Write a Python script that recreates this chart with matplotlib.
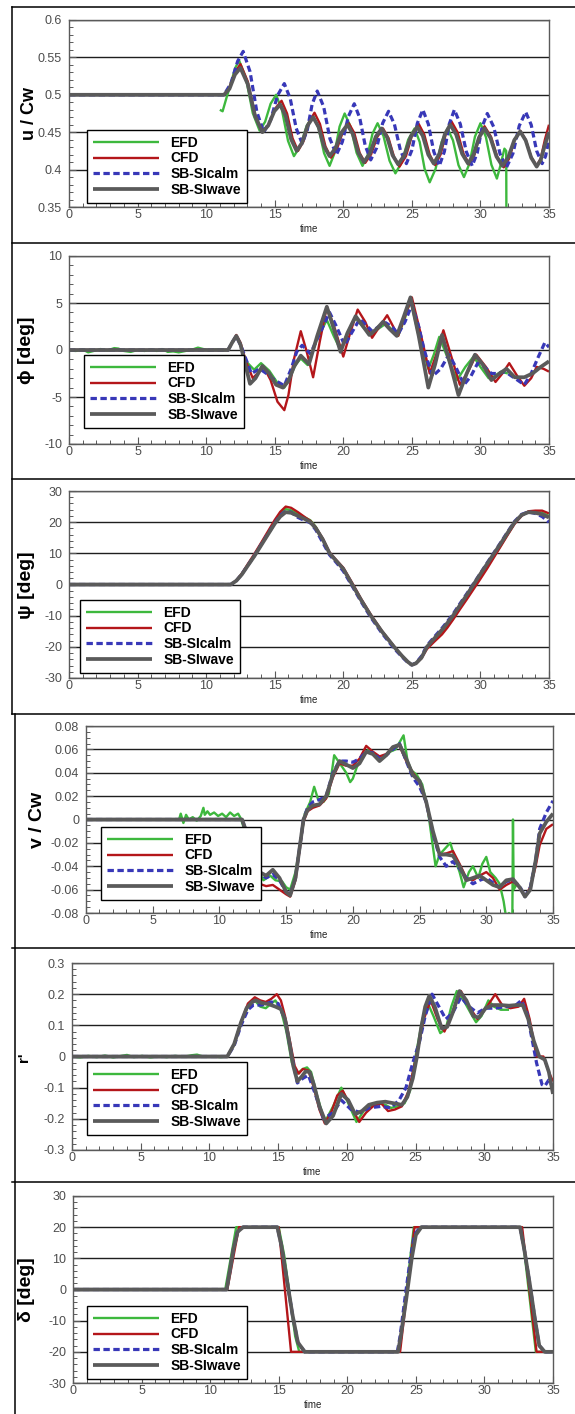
import matplotlib
matplotlib.use('Agg')
import matplotlib.pyplot as plt
from matplotlib.lines import Line2D
from matplotlib.ticker import FixedLocator, MultipleLocator, FixedFormatter
from matplotlib import font_manager as fm

plt.rcParams['axes.unicode_minus'] = False

# ---------------- data ----------------
series_names = ['EFD', 'CFD', 'SB-SIcalm', 'SB-SIwave']

# Panel 1: u / Cw
u_t_efd = [11.0, 11.2, 11.5, 11.8, 12.1, 12.4, 12.9, 13.4, 13.9, 14.3, 14.7, 15.1, 15.53, 15.97, 16.4, 16.87, 17.33, 17.8,
           18.2, 18.6, 19.0, 19.37, 19.73, 20.1, 20.53, 20.97, 21.4, 21.77, 22.13, 22.5, 22.93, 23.37, 23.8, 24.27, 24.73,
           25.2, 25.57, 25.93, 26.3, 26.73, 27.17, 27.6, 28.0, 28.4, 28.8, 29.2, 29.6, 30.0, 30.4, 30.8, 31.2, 31.45,
           31.75, 31.88, 31.9]
u_efd = [0.480, 0.478, 0.497, 0.515, 0.535, 0.546, 0.5225, 0.4755, 0.452, 0.464, 0.488, 0.500, 0.4795, 0.4385, 0.418,
         0.4315, 0.4585, 0.472, 0.455, 0.422, 0.405, 0.4225, 0.4575, 0.475, 0.4575, 0.4225, 0.405, 0.419, 0.448, 0.462,
         0.445, 0.412, 0.395, 0.410, 0.440, 0.455, 0.437, 0.401, 0.383, 0.401, 0.437, 0.455, 0.439, 0.406, 0.390, 0.408,
         0.444, 0.462, 0.4435, 0.4065, 0.388, 0.405, 0.428, 0.425, 0.30]
u_t_cfd = [0, 11.3, 11.7, 12.1, 12.5, 13.03, 13.57, 14.1, 14.57, 15.03, 15.5, 15.9, 16.3, 16.7, 17.1, 17.5, 17.9, 18.3,
           18.7, 19.1, 19.53, 19.97, 20.4, 20.8, 21.2, 21.6, 22.03, 22.47, 22.9, 23.3, 23.7, 24.1, 24.57, 25.03, 25.5,
           25.9, 26.3, 26.7, 27.1, 27.5, 27.9, 28.33, 28.77, 29.2, 29.57, 29.93, 30.3, 30.77, 31.23, 31.7, 32.1, 32.5,
           32.9, 33.3, 33.7, 34.1, 34.4, 34.7, 35]
u_cfd = [0.5, 0.5, 0.51, 0.53, 0.541, 0.518, 0.473, 0.450, 0.4605, 0.4815, 0.492, 0.475, 0.442, 0.425, 0.438, 0.463,
         0.476, 0.461, 0.431, 0.416, 0.4275, 0.4505, 0.462, 0.449, 0.422, 0.409, 0.4205, 0.4435, 0.455, 0.442, 0.417,
         0.404, 0.418, 0.447, 0.461, 0.447, 0.420, 0.406, 0.4205, 0.4495, 0.464, 0.450, 0.421, 0.407, 0.420, 0.445,
         0.458, 0.444, 0.417, 0.403, 0.415, 0.440, 0.452, 0.440, 0.417, 0.405, 0.415, 0.44, 0.46]
u_t_calm = [0, 11.3, 11.8, 12.3, 12.7, 13.2, 13.7, 14.2, 14.7, 15.2, 15.7, 16.13, 16.57, 17.0, 17.37, 17.73, 18.1,
            18.57, 19.03, 19.5, 19.93, 20.37, 20.8, 21.2, 21.6, 22.0, 22.43, 22.87, 23.3, 23.73, 24.17, 24.6, 25.0,
            25.4, 25.8, 26.2, 26.6, 27.0, 27.37, 27.73, 28.1, 28.53, 28.97, 29.4, 29.77, 30.13, 30.5, 30.97, 31.43,
            31.9, 32.37, 32.83, 33.3, 33.7, 34.1, 34.5, 34.75, 35]
u_calm = [0.5, 0.5, 0.515, 0.545, 0.558, 0.531, 0.477, 0.450, 0.466, 0.499, 0.515, 0.495, 0.455, 0.435, 0.4525,
          0.4875, 0.505, 0.484, 0.441, 0.420, 0.437, 0.471, 0.488, 0.469, 0.432, 0.413, 0.429, 0.462, 0.478, 0.4605,
          0.4255, 0.408, 0.426, 0.462, 0.480, 0.461, 0.424, 0.405, 0.424, 0.461, 0.480, 0.461, 0.424, 0.405, 0.4225,
          0.4575, 0.475, 0.457, 0.421, 0.403, 0.4215, 0.4585, 0.477, 0.460, 0.425, 0.408, 0.418, 0.440]
u_t_wave = [0, 11.3, 11.7, 12.1, 12.5, 13.03, 13.57, 14.1, 14.53, 14.97, 15.4, 15.8, 16.2, 16.6, 17.0, 17.4, 17.8, 18.2,
            18.6, 19.0, 19.43, 19.87, 20.3, 20.7, 21.1, 21.5, 21.93, 22.37, 22.8, 23.2, 23.6, 24.0, 24.47, 24.93, 25.4,
            25.8, 26.2, 26.6, 27.0, 27.4, 27.8, 28.23, 28.67, 29.1, 29.5, 29.9, 30.3, 30.73, 31.17, 31.6, 32.03, 32.47,
            32.9, 33.3, 33.7, 34.1, 34.4, 34.7, 35]
u_wave = [0.5, 0.5, 0.508, 0.527, 0.536, 0.5145, 0.4715, 0.450, 0.459, 0.478, 0.487, 0.4715, 0.4405, 0.425, 0.436,
          0.459, 0.470, 0.457, 0.431, 0.418, 0.4285, 0.4495, 0.460, 0.4475, 0.4225, 0.410, 0.421, 0.444, 0.455, 0.443,
          0.419, 0.407, 0.4195, 0.4445, 0.457, 0.445, 0.420, 0.408, 0.421, 0.447, 0.460, 0.447, 0.421, 0.408, 0.420,
          0.443, 0.455, 0.4425, 0.4175, 0.405, 0.4165, 0.4395, 0.451, 0.439, 0.416, 0.404, 0.413, 0.433, 0.450]

# Panel 2: phi [deg]
phi_t_efd = [0, 0.5, 1.0, 1.4, 1.8, 2.3, 2.8, 3.3, 3.6, 4.0, 4.5, 5.0, 5.5, 6.0, 6.4, 6.8, 7.2, 7.6, 8.0, 8.5, 9.0,
             9.4, 9.8, 10.2, 10.7, 11.2, 11.6, 11.9, 12.2, 12.5, 12.9, 13.5, 14.0, 14.6, 15.2, 15.7, 16.1, 16.5, 16.9,
             17.4, 18.1, 18.8, 19.3, 19.8, 20.3, 20.9, 21.4, 22.0, 22.5, 23.1, 23.6, 24.0, 24.5, 24.9, 25.5, 26.2,
             26.6, 27.0, 27.6, 28.3, 28.9, 29.5, 30.0, 30.6, 31.0, 31.5, 32.0]
phi_efd = [-0.05, -0.1, 0.05, -0.25, -0.1, 0.1, -0.05, 0.2, 0.15, -0.1, -0.2, 0.0, -0.1, 0.05, -0.1, 0.1, -0.2,
           -0.15, -0.25, -0.1, 0.05, 0.25, 0.1, -0.05, 0.05, 0.0, 0.0, 0.8, 1.5, 0.6, -1.2, -2.1, -1.4, -2.2, -3.5,
           -4.0, -3.0, -1.6, -0.9, -1.6, 1.2, 3.2, 1.5, 0.0, 1.8, 3.4, 2.5, 1.6, 2.2, 2.8, 2.1, 1.5, 3.4, 5.3, 1.5,
           -2.0, -0.5, 1.4, -0.8, -3.2, -1.8, -0.7, -1.8, -3.0, -2.8, -2.3, -2.5]
phi_t_cfd = [0, 11.6, 11.9, 12.2, 12.5, 12.9, 13.4, 13.8, 14.2, 14.7, 15.2, 15.7, 16.0, 16.4, 16.9, 17.3, 17.8, 18.3,
             18.8, 19.4, 20.0, 20.5, 21.05, 21.6, 22.1, 22.6, 23.2, 23.6, 24.0, 24.5, 25.0, 25.6, 26.3, 26.8, 27.3,
             27.9, 28.5, 29.1, 29.7, 30.4, 31.1, 31.6, 32.1, 32.7, 33.2, 33.7, 34.1, 34.6, 35]
phi_cfd = [0, 0, 0.8, 1.6, 0.8, -1.2, -3.0, -2.4, -1.8, -3.2, -5.5, -6.4, -4.8, -1.0, 2.0, 0.0, -2.9, 1.0, 4.6, 2.2,
           -0.7, 1.8, 4.3, 3.0, 1.3, 2.4, 3.7, 2.6, 1.5, 3.6, 5.6, 2.0, -2.5, -0.4, 2.1, -0.8, -3.7, -2.3, -0.5, -1.8,
           -3.4, -2.5, -1.4, -2.8, -3.8, -3.0, -1.8, -2.0, -2.3]
phi_t_calm = [0, 11.6, 11.9, 12.2, 12.6, 13.3, 13.9, 14.5, 15.0, 15.7, 16.2, 16.6, 17.0, 17.6, 18.3, 19.0, 19.5,
              20.1, 20.6, 21.2, 21.7, 22.1, 22.6, 23.1, 23.6, 24.0, 24.5, 25.0, 25.5, 25.9, 26.5, 27.1, 27.7, 28.2,
              28.8, 29.3, 29.8, 30.3, 30.8, 31.3, 31.8, 32.5, 33.2, 33.7, 34.2, 34.7, 35]
phi_calm = [0, 0, 0.8, 1.5, 0.2, -2.5, -2.0, -2.6, -3.2, -3.8, -2.0, -0.2, 0.5, -0.4, 1.8, 4.0, 2.5, 0.5, 1.8, 3.3,
            2.6, 2.0, 2.5, 2.9, 2.4, 1.7, 3.0, 4.8, 2.5, 0.0, -2.8, -2.0, -0.5, -1.8, -3.7, -2.8, -1.4, -1.8, -2.5,
            -2.5, -2.3, -3.0, -3.7, -2.5, -0.8, 0.8, 0.3]
phi_t_wave = [0, 11.6, 11.9, 12.2, 12.5, 12.9, 13.2, 13.6, 14.1, 14.6, 15.1, 15.6, 16.0, 16.4, 16.9, 17.5, 18.1,
              18.8, 19.3, 19.8, 20.3, 20.9, 21.4, 21.9, 22.4, 22.9, 23.4, 23.9, 24.4, 24.9, 25.5, 26.2, 26.7, 27.2,
              27.8, 28.4, 29.0, 29.6, 30.2, 30.8, 31.4, 31.9, 32.5, 33.2, 33.8, 34.4, 35]
phi_wave = [0, 0, 0.8, 1.5, 0.6, -1.8, -3.6, -3.0, -1.7, -2.5, -3.7, -4.0, -3.3, -1.8, -0.6, -1.5, 1.5, 4.6, 2.3,
            -0.2, 1.8, 3.6, 2.6, 1.6, 2.2, 3.0, 2.2, 1.5, 3.5, 5.6, 1.5, -4.0, -1.5, 1.6, -1.5, -4.8, -2.5, -0.5,
            -1.6, -3.2, -2.5, -2.0, -2.9, -2.9, -2.5, -1.8, -1.2]

# Panel 3: psi [deg] (shared time base)
psi_t = [0, 11.8, 12.2, 12.6, 13.0, 13.5, 14.0, 14.5, 15.0, 15.4, 15.8, 16.2, 16.7, 17.2, 17.6, 18.0, 18.5, 19.0, 19.5,
         20.0, 20.65, 21.3, 22.0, 22.8, 23.7, 24.3, 24.7, 25.0, 25.3, 25.7, 26.1, 26.6, 27.2, 27.6, 28.0, 28.5, 29.0,
         29.5, 30.0, 30.5, 31.0, 31.5, 32.0, 32.5, 33.0, 33.5, 34.0, 34.5, 35]
psi_efd = [0, 0, 1.2, 3.3, 6.0, 9.3, 13, 16.5, 20, 22.8, 24.2, 23.8, 22.6, 21.5, 20.6, 18.5, 14.5, 10, 7.6, 5.2, 0.2,
           -4.8, -9.8, -14.9, -19.9, -23, -24.8, -25.7, -25.2, -23.3, -20.2, -18, -15.5, -13.3, -11, -7.5, -4.3, -1,
           2.4, 5.8, 9.2, 12.6, 16.2, 19.7, 22.2, 23.3, 23.2, 23, 22]
psi_cfd = [0, 0, 1.3, 3.5, 6.3, 9.7, 13.3, 17, 20.7, 23.3, 25.0, 24.6, 23.2, 21.6, 20.4, 18.3, 14.8, 10.3, 7.8, 5.4,
           0.5, -4.6, -9.6, -14.8, -19.8, -23, -24.8, -25.8, -25.3, -23.7, -20.7, -18.5, -16, -13.8, -11.3, -8, -4.8,
           -1.5, 1.8, 5.2, 8.8, 12.4, 16, 19.5, 22, 23.5, 23.7, 23.7, 22.8]
psi_calm = [0, 0, 1.2, 3.3, 5.9, 9.1, 12.7, 16.2, 19.7, 22.2, 23.5, 23.2, 21.5, 20.5, 19.8, 17.5, 13.5, 9.5, 7, 4.3,
            -0.5, -5.5, -10.5, -15.5, -20.5, -23.3, -25, -25.8, -25.2, -23, -19.6, -17, -14, -11.8, -9.5, -6.2, -3,
            0.3, 3.6, 7, 10.3, 13.6, 17, 20.3, 22.5, 23.3, 22.8, 21.8, 20]
psi_wave = [0, 0, 1.2, 3.2, 5.8, 9, 12.5, 16, 19.5, 21.8, 23.2, 23, 22, 21, 20, 18, 14.5, 10, 7.5, 5, 0, -5, -10,
            -15, -20, -23, -24.8, -25.8, -25.3, -23.5, -20, -17.5, -14.5, -12.3, -10, -6.7, -3.4, 0, 3.4, 6.7, 10,
            13.3, 16.7, 20, 22.3, 23.2, 23, 22.5, 21.5]

# Panel 4: v / Cw
v_t_efd = [7.0, 7.1, 7.3, 7.5, 7.7, 8.0, 8.3, 8.6, 8.8, 8.9, 9.1, 9.3, 9.6, 9.9, 10.2, 10.5, 10.8, 11.1, 11.4, 11.6,
           11.9, 12.3, 13.3, 13.8, 14.2, 14.7, 15.0, 15.3, 15.7, 16.0, 16.4, 16.8, 17.1, 17.4, 17.8, 18.2, 18.6, 18.9,
           19.2, 19.5, 19.8, 20.0, 20.3, 20.8, 21.2, 21.6, 22.0, 22.4, 22.8, 23.2, 23.6, 23.8, 24.1, 24.4, 24.8, 25.2,
           25.6, 25.9, 26.2, 26.5, 26.9, 27.3, 27.7, 28.0, 28.3, 28.7, 29.0, 29.4, 29.7, 30.0, 30.3, 30.7, 31.0, 31.3,
           31.5, 31.7, 31.95, 32.0, 32.05, 32.3]
v_efd = [0.001, 0.005, -0.003, 0.004, 0.0, 0.002, -0.001, 0.003, 0.01, 0.004, 0.007, 0.004, 0.006, 0.003, 0.005,
         0.002, 0.006, 0.003, 0.005, 0.001, -0.01, -0.03, -0.052, -0.048, -0.052, -0.053, -0.058, -0.06, -0.045,
         -0.025, 0.005, 0.015, 0.028, 0.017, 0.015, 0.022, 0.055, 0.05, 0.045, 0.04, 0.032, 0.035, 0.045, 0.055, 0.06,
         0.055, 0.05, 0.055, 0.058, 0.06, 0.068, 0.072, 0.05, 0.042, 0.038, 0.03, 0.01, -0.015, -0.04, -0.03, -0.025,
         -0.02, -0.035, -0.045, -0.058, -0.045, -0.04, -0.05, -0.038, -0.032, -0.045, -0.05, -0.055, -0.07, -0.085,
         -0.08, -0.09, 0.0, -0.06, -0.055]
v_t = [0, 11.7, 12.0, 12.5, 13.0, 13.5, 14.0, 14.5, 15.0, 15.3, 15.7, 16.0, 16.3, 16.6, 17.0, 17.5, 18.0, 18.5, 19.0,
       19.5, 20.0, 20.5, 21.0, 21.5, 22.0, 22.5, 23.0, 23.5, 24.0, 24.5, 25.0, 25.5, 26.0, 26.5, 27.0, 27.5, 28.0,
       28.5, 29.0, 29.5, 30.0, 30.5, 31.0, 31.5, 32.0, 32.5, 32.9, 33.3, 33.7, 34.0, 34.5, 35]
v_cfd = [0, 0, -0.012, -0.035, -0.055, -0.057, -0.056, -0.06, -0.064, -0.066, -0.052, -0.027, -0.002, 0.007, 0.01,
         0.012, 0.018, 0.036, 0.048, 0.046, 0.046, 0.052, 0.063, 0.058, 0.054, 0.056, 0.062, 0.063, 0.05, 0.04, 0.032,
         0.014, -0.012, -0.03, -0.029, -0.027, -0.038, -0.05, -0.052, -0.048, -0.045, -0.05, -0.06, -0.056, -0.053,
         -0.058, -0.066, -0.058, -0.04, -0.022, -0.008, -0.004]
v_calm = [0, 0, -0.01, -0.03, -0.046, -0.05, -0.047, -0.052, -0.062, -0.064, -0.05, -0.025, 0.0, 0.01, 0.015, 0.017,
          0.02, 0.04, 0.05, 0.05, 0.049, 0.052, 0.058, 0.057, 0.052, 0.055, 0.06, 0.065, 0.05, 0.036, 0.028, 0.015,
          -0.012, -0.032, -0.04, -0.036, -0.042, -0.05, -0.055, -0.052, -0.05, -0.054, -0.058, -0.053, -0.052,
          -0.057, -0.066, -0.058, -0.035, -0.008, 0.006, 0.016]
v_wave = [0, 0, -0.01, -0.03, -0.045, -0.048, -0.043, -0.05, -0.062, -0.065, -0.05, -0.025, 0.0, 0.008, 0.012,
          0.013, 0.02, 0.038, 0.05, 0.047, 0.044, 0.048, 0.058, 0.056, 0.05, 0.055, 0.062, 0.064, 0.052, 0.038,
          0.033, 0.015, -0.01, -0.03, -0.03, -0.031, -0.04, -0.052, -0.05, -0.048, -0.052, -0.056, -0.058, -0.052,
          -0.051, -0.058, -0.066, -0.06, -0.035, -0.012, -0.002, 0.005]

# Panel 5: r'
r_t_efd = [0, 0.6, 1.2, 1.8, 2.4, 3.0, 3.6, 4.0, 4.5, 5.1, 5.7, 6.3, 6.9, 7.5, 8.1, 8.7, 9.1, 9.6, 10.2, 10.8, 11.3,
           11.8, 12.3, 12.8, 13.3, 13.7, 14.1, 14.5, 14.8, 15.2, 15.6, 16.0, 16.4, 16.8, 17.1, 17.4, 17.8, 18.4, 19.0,
           19.6, 20.1, 20.7, 21.3, 21.8, 22.3, 22.8, 23.2, 23.7, 24.2, 24.6, 25.0, 25.5, 25.9, 26.3, 26.8, 27.2, 27.6,
           28.0, 28.5, 29.0, 29.4, 29.8, 30.3, 30.7, 31.2, 31.6, 31.8]
r_efd = [0.0, -0.003, 0.002, -0.002, 0.003, -0.003, 0.002, 0.005, -0.002, 0.002, -0.003, 0.001, -0.002, 0.002,
         -0.001, 0.004, 0.006, -0.001, 0.001, -0.002, 0.0, 0.04, 0.11, 0.16, 0.18, 0.16, 0.155, 0.17, 0.18, 0.15,
         0.08, -0.02, -0.055, -0.04, -0.035, -0.05, -0.12, -0.21, -0.16, -0.1, -0.15, -0.21, -0.17, -0.16, -0.15,
         -0.155, -0.165, -0.16, -0.15, -0.11, 0.0, 0.12, 0.17, 0.13, 0.075, 0.09, 0.16, 0.21, 0.18, 0.14, 0.11, 0.13,
         0.18, 0.16, 0.15, 0.15, 0.15]
r_t_cfd = [0, 11.3, 11.8, 12.3, 12.8, 13.3, 13.7, 14.1, 14.5, 14.9, 15.2, 15.5, 15.9, 16.2, 16.5, 16.8, 17.2, 17.6,
           18.0, 18.4, 18.9, 19.3, 19.7, 20.3, 20.9, 21.4, 21.9, 22.5, 23.0, 23.5, 24.0, 24.5, 24.9, 25.2, 25.6, 26.1,
           26.6, 27.1, 27.6, 28.3, 28.9, 29.5, 30.2, 30.8, 31.3, 31.9, 32.5, 32.9, 33.3, 33.8, 34.3, 34.7, 35]
r_cfd = [0, 0, 0.04, 0.11, 0.17, 0.19, 0.18, 0.175, 0.185, 0.2, 0.18, 0.13, 0.04, -0.03, -0.055, -0.04, -0.045, -0.1,
         -0.17, -0.215, -0.175, -0.125, -0.11, -0.16, -0.21, -0.18, -0.16, -0.15, -0.175, -0.17, -0.16, -0.11, -0.03,
         0.03, 0.12, 0.18, 0.12, 0.08, 0.13, 0.21, 0.16, 0.12, 0.16, 0.2, 0.165, 0.155, 0.16, 0.185, 0.12, 0.0, 0.0,
         -0.05, -0.08]
r_t_calm = [0, 11.3, 11.8, 12.3, 12.8, 13.2, 13.8, 14.5, 15.0, 15.5, 16.0, 16.4, 16.8, 17.2, 17.7, 18.3, 19.0, 19.6,
            20.3, 21.0, 21.6, 22.5, 23.2, 23.8, 24.3, 24.8, 25.3, 25.7, 26.2, 26.7, 27.2, 27.7, 28.3, 28.9, 29.5,
            30.1, 30.8, 31.6, 32.3, 32.7, 33.1, 33.5, 33.8, 34.2, 34.4, 34.7, 35]
r_calm = [0, 0, 0.035, 0.1, 0.15, 0.165, 0.165, 0.175, 0.17, 0.12, 0.0, -0.085, -0.07, -0.06, -0.12, -0.2, -0.18,
          -0.14, -0.17, -0.18, -0.165, -0.16, -0.165, -0.14, -0.1, -0.02, 0.05, 0.13, 0.2, 0.16, 0.12, 0.14, 0.19,
          0.16, 0.14, 0.155, 0.155, 0.16, 0.165, 0.18, 0.14, 0.05, -0.02, -0.09, -0.095, -0.075, -0.1]
r_t_wave = [0, 11.3, 11.8, 12.3, 12.7, 13.1, 13.4, 13.8, 14.3, 14.8, 15.2, 15.5, 15.8, 16.1, 16.4, 16.7, 17.0, 17.3,
            17.6, 18.0, 18.5, 19.0, 19.6, 20.1, 20.6, 21.1, 21.6, 22.2, 22.8, 23.4, 24.0, 24.4, 24.8, 25.1, 25.4,
            25.7, 26.0, 26.4, 26.9, 27.3, 27.7, 28.2, 28.7, 29.2, 29.6, 30.1, 30.6, 31.2, 31.8, 32.3, 32.8, 33.2,
            33.6, 34.0, 34.4, 34.7, 35]
r_wave = [0, 0, 0.04, 0.11, 0.155, 0.175, 0.18, 0.172, 0.168, 0.16, 0.152, 0.12, 0.05, -0.03, -0.08, -0.065, -0.048,
          -0.05, -0.09, -0.16, -0.215, -0.19, -0.12, -0.14, -0.185, -0.175, -0.155, -0.148, -0.145, -0.15, -0.155,
          -0.13, -0.07, 0.0, 0.09, 0.16, 0.195, 0.16, 0.09, 0.095, 0.14, 0.21, 0.18, 0.13, 0.125, 0.155, 0.165, 0.165,
          0.163, 0.165, 0.165, 0.12, 0.05, 0.0, -0.01, -0.05, -0.12]

# Panel 6: delta [deg]
d_t_efd = [0, 11.1, 11.9, 15.0, 15.4, 15.9, 16.2, 16.5, 23.8, 24.85, 32.7, 33.75, 35]
d_efd = [0, 0, 20, 20, 11, -5, -15, -20, -20, 20, 20, -20, -20]
d_t_cfd = [0, 11.25, 12.1, 15.0, 15.9, 23.85, 24.9, 32.75, 33.8, 35]
d_cfd = [0, 0, 20, 20, -20, -20, 20, 20, -20, -20]
d_t_calm = [0, 11.2, 11.4, 11.7, 12.0, 12.4, 14.9, 15.2, 15.6, 16.0, 16.4, 16.9, 23.65, 23.85, 24.2, 24.6, 24.9,
            25.3, 32.6, 32.9, 33.3, 33.7, 34.0, 34.4, 35]
d_calm = [0, 0, 5, 13, 18.5, 20, 20, 14, 3, -8, -17, -20, -20, -15, -3, 10, 17.5, 20, 20, 13, 2, -10, -18, -20, -20]
d_t_wave = [0, 11.2, 11.4, 11.7, 12.0, 12.4, 14.9, 15.2, 15.6, 16.0, 16.4, 16.9, 23.7, 23.9, 24.3, 24.7, 25.0, 25.4,
            32.6, 32.9, 33.3, 33.7, 34.0, 34.4, 35]
d_wave = [0, 0, 5, 13, 18.5, 20, 20, 14, 3, -8, -17, -20, -20, -15, -3, 10, 17.5, 20, 20, 13, 2, -10, -18, -20, -20]

# axis ticks / labels
x_ticks = [0, 5, 10, 15, 20, 25, 30, 35]
x_ticklabels = ['0', '5', '10', '15', '20', '25', '30', '35']
u_yticks = [0.35, 0.4, 0.45, 0.5, 0.55, 0.6]
u_yticklabels = ['0.35', '0.4', '0.45', '0.5', '0.55', '0.6']
phi_yticks = [-10, -5, 0, 5, 10]
phi_yticklabels = ['-10', '-5', '0', '5', '10']
deg30_yticks = [-30, -20, -10, 0, 10, 20, 30]
deg30_yticklabels = ['-30', '-20', '-10', '0', '10', '20', '30']
v_yticks = [-0.08, -0.06, -0.04, -0.02, 0, 0.02, 0.04, 0.06, 0.08]
v_yticklabels = ['-0.08', '-0.06', '-0.04', '-0.02', '0', '0.02', '0.04', '0.06', '0.08']
r_yticks = [-0.3, -0.2, -0.1, 0, 0.1, 0.2, 0.3]
r_yticklabels = ['-0.3', '-0.2', '-0.1', '0', '0.1', '0.2', '0.3']
y_labels = ['u / Cw', '\u03d5 [deg]', '\u03c8 [deg]', 'v / Cw', "r'", '\u03b4 [deg]']

# ---------------- styling ----------------
def has_font(name):
    try:
        fm.findfont(fm.FontProperties(family=name), fallback_to_default=False)
        return True
    except Exception:
        return False

BASE = 'Liberation Sans' if has_font('Liberation Sans') else 'DejaVu Sans'
NARROW = 'Liberation Sans Narrow' if has_font('Liberation Sans Narrow') else BASE

styles = {
    'EFD': dict(color='#3db83d', lw=1.7, solid_capstyle='butt'),
    'CFD': dict(color='#b4161a', lw=1.7, solid_capstyle='butt'),
    'SB-SIcalm': dict(color='#3838b8', lw=2.3, linestyle=(0, (2.0, 1.1)), dash_capstyle='butt'),
    'SB-SIwave': dict(color='#5a5a5a', lw=2.7, solid_capstyle='butt'),
}

W, H = 575, 1414
fig = plt.figure(figsize=(W / 100, H / 100), dpi=100)
fig.patch.set_facecolor('white')


def fx(px):
    return px / W


def fy(py):
    return 1 - py / H


panels = [
    dict(box=(69, 20, 549, 207), ylim=(0.35, 0.6), yt=u_yticks, ytl=u_yticklabels, minor=0.01,
         data=[(u_t_efd, u_efd), (u_t_cfd, u_cfd), (u_t_calm, u_calm), (u_t_wave, u_wave)],
         lab=(30, 113), lsize=13, leg=(87, 203)),
    dict(box=(69, 256, 549, 444), ylim=(-10, 10), yt=phi_yticks, ytl=phi_yticklabels, minor=1,
         data=[(phi_t_efd, phi_efd), (phi_t_cfd, phi_cfd), (phi_t_calm, phi_calm), (phi_t_wave, phi_wave)],
         lab=(27, 350), lsize=14, leg=(84, 428)),
    dict(box=(69, 491, 549, 678), ylim=(-30, 30), yt=deg30_yticks, ytl=deg30_yticklabels, minor=2,
         data=[(psi_t, psi_efd), (psi_t, psi_cfd), (psi_t, psi_calm), (psi_t, psi_wave)],
         lab=(27, 585), lsize=14, leg=(80, 673)),
    dict(box=(86, 726, 553, 913), ylim=(-0.08, 0.08), yt=v_yticks, ytl=v_yticklabels, minor=0.005,
         data=[(v_t_efd, v_efd), (v_t, v_cfd), (v_t, v_calm), (v_t, v_wave)],
         lab=(37, 820), lsize=14, leg=(101, 900)),
    dict(box=(72, 963, 553, 1150), ylim=(-0.3, 0.3), yt=r_yticks, ytl=r_yticklabels, minor=0.02,
         data=[(r_t_efd, r_efd), (r_t_cfd, r_cfd), (r_t_calm, r_calm), (r_t_wave, r_wave)],
         lab=(24, 1057), lsize=11, leg=(87, 1135)),
    dict(box=(73, 1196, 553, 1383), ylim=(-30, 30), yt=deg30_yticks, ytl=deg30_yticklabels, minor=2,
         data=[(d_t_efd, d_efd), (d_t_cfd, d_cfd), (d_t_calm, d_calm), (d_t_wave, d_wave)],
         lab=(27, 1290), lsize=14, leg=(87, 1379)),
]

for i, p in enumerate(panels):
    l, t, r, b = p['box']
    ax = fig.add_axes([fx(l), fy(b), (r - l) / W, (b - t) / H])
    ax.set_xlim(0, 35)
    ax.set_ylim(*p['ylim'])
    handles = []
    for name, (tt, vv) in zip(series_names, p['data']):
        ln, = ax.plot(tt, vv, label=name, **styles[name])
        handles.append(ln)
    ax.yaxis.set_major_locator(FixedLocator(p['yt']))
    ax.yaxis.set_major_formatter(FixedFormatter(p['ytl']))
    ax.yaxis.set_minor_locator(MultipleLocator(p['minor']))
    ax.xaxis.set_major_locator(FixedLocator(x_ticks))
    ax.xaxis.set_major_formatter(FixedFormatter(x_ticklabels))
    ax.xaxis.set_minor_locator(MultipleLocator(1))
    ax.grid(axis='y', which='major', color='#1e1e1e', lw=1.0)
    ax.set_axisbelow(True)
    for s in ax.spines.values():
        s.set_color('#5a5a5a')
        s.set_linewidth(1.0)
    ax.tick_params(which='both', direction='in', colors='#5a5a5a', top=False, right=False)
    ax.tick_params(which='major', length=5, width=0.8)
    ax.tick_params(which='minor', length=3, width=0.7)
    ax.tick_params(axis='x', which='major', pad=1.5, labelsize=9, labelcolor='#4d4d4d')
    ax.tick_params(axis='y', which='major', pad=5, labelsize=9, labelcolor='#4d4d4d')
    for lab in ax.get_xticklabels() + ax.get_yticklabels():
        lab.set_fontfamily(BASE)
    fig.text(fx((l + r) / 2), fy(b + 22), 'time', ha='center', va='center', fontsize=7,
             family=BASE, color='#222222')
    lx, ly = p['lab']
    fig.text(fx(lx), fy(ly), y_labels[i], rotation=90, ha='center', va='center',
             fontsize=p['lsize'], fontweight='bold', family=[BASE, 'DejaVu Sans'], color='black')
    gl, gb = p['leg']
    leg = ax.legend(handles=handles, loc='lower left',
                    bbox_to_anchor=((gl - l) / (r - l), (b - gb) / (b - t)),
                    borderaxespad=0, frameon=True, fancybox=False, framealpha=1,
                    edgecolor='black', prop=fm.FontProperties(family=NARROW, weight='bold', size=10),
                    handlelength=4.75, handletextpad=0.8, labelspacing=0.12, borderpad=0.45)
    leg.get_frame().set_linewidth(1.0)

border_kw = dict(color='black', lw=1.1)
fig.add_artist(Line2D([fx(12), fx(12)], [fy(7), fy(714)], transform=fig.transFigure, **border_kw))
fig.add_artist(Line2D([fx(14.5), fx(14.5)], [fy(714), fy(1414)], transform=fig.transFigure, **border_kw))
for yy in [7, 243, 479, 714, 948, 1182]:
    fig.add_artist(Line2D([fx(12), fx(575)], [fy(yy), fy(yy)], transform=fig.transFigure, **border_kw))

fig.savefig('out.png', dpi=100, facecolor='white')
